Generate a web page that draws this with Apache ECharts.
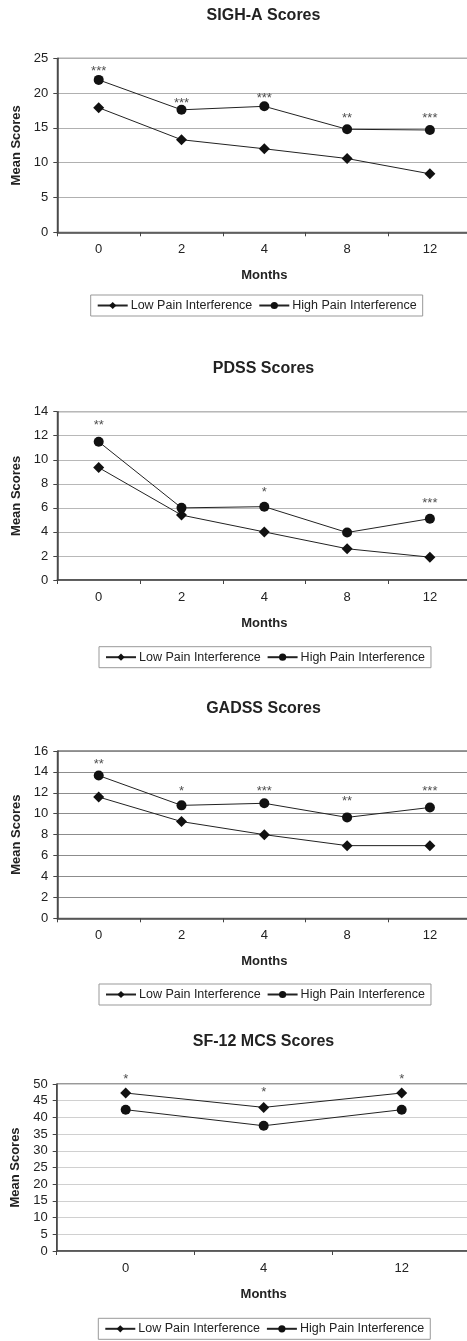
<!DOCTYPE html>
<html>
<head>
<meta charset="utf-8">
<script src="https://cdn.jsdelivr.net/npm/echarts@6/dist/echarts.min.js"></script>
<style>
html,body{margin:0;padding:0;background:#fff;}
#c{width:467px;height:1341px;}
</style>
</head>
<body>
<div id="c"></div>
<script>
// ---- data ----
const months5 = ['0', '2', '4', '8', '12'];
const months3 = ['0', '4', '12'];
const seriesNames = ['Low Pain Interference', 'High Pain Interference'];

const sighTitle = 'SIGH-A Scores';
const sighLow = [17.9, 13.3, 12.0, 10.6, 8.4];
const sighHigh = [21.9, 17.6, 18.1, 14.8, 14.7];
const sighSig = ['***', '***', '***', '**', '***'];
const sighSigY = [23.6, 19.0, 19.6, 16.8, 16.8];
const sighAxis = [0, 25, 5];

const pdssTitle = 'PDSS Scores';
const pdssLow = [9.35, 5.4, 4.0, 2.6, 1.9];
const pdssHigh = [11.5, 6.0, 6.1, 3.95, 5.1];
const pdssSig = ['**', '', '*', '', '***'];
const pdssSigY = [13.1, null, 7.5, null, 6.6];
const pdssAxis = [0, 14, 2];

const gadssTitle = 'GADSS Scores';
const gadssLow = [11.6, 9.25, 8.0, 6.95, 6.95];
const gadssHigh = [13.65, 10.8, 11.0, 9.65, 10.6];
const gadssSig = ['**', '*', '***', '**', '***'];
const gadssSigY = [15.0, 12.4, 12.4, 11.5, 12.4];
const gadssAxis = [0, 16, 2];

const mcsTitle = 'SF-12 MCS Scores';
const mcsLow = [47.3, 43.0, 47.3];
const mcsHigh = [42.3, 37.5, 42.3];
const mcsSig = ['*', '*', '*'];
const mcsSigY = [52.2, 48.5, 52.2];
const mcsAxis = [0, 50, 5];

// ---- layout ----
const FONT = '"Liberation Sans", Arial, sans-serif';
const TXT = '#222';
const panels = [
  {title: sighTitle, cats: months5, low: sighLow, high: sighHigh, sig: sighSig, sigY: sighSigY, axis: sighAxis,
   titleTop: 8, gridTop: 58.3, gridH: 174, left: 57.3, width: 414, legendLeft: 90.7, legendTop: 295, grid: '#b0b0b0'},
  {title: pdssTitle, cats: months5, low: pdssLow, high: pdssHigh, sig: pdssSig, sigY: pdssSigY, axis: pdssAxis,
   titleTop: 361, gridTop: 411.7, gridH: 168.3, left: 57.3, width: 414, legendLeft: 99, legendTop: 646.7, grid: '#b8b8b8'},
  {title: gadssTitle, cats: months5, low: gadssLow, high: gadssHigh, sig: gadssSig, sigY: gadssSigY, axis: gadssAxis,
   titleTop: 701, gridTop: 751, gridH: 167.3, left: 57.3, width: 414, legendLeft: 99, legendTop: 984, grid: '#8c8c8c'},
  {title: mcsTitle, cats: months3, low: mcsLow, high: mcsHigh, sig: mcsSig, sigY: mcsSigY, axis: mcsAxis,
   titleTop: 1034, gridTop: 1084, gridH: 167, left: 56.7, width: 414, legendLeft: 98.3, legendTop: 1318.3, grid: '#d0d0d0'}
];

const option = {
  backgroundColor: '#fff',
  animation: false,
  textStyle: {fontFamily: FONT, color: TXT},
  title: [], legend: [], grid: [], xAxis: [], yAxis: [], series: []
};

panels.forEach((p, i) => {
  const center = 263.5;
  option.title.push({
    text: p.title, left: center, top: p.titleTop, textAlign: 'center', padding: 0,
    textStyle: {fontFamily: FONT, fontSize: 16, fontWeight: 'bold', color: TXT}
  });
  option.grid.push({
    left: p.left, top: p.gridTop, width: p.width, height: p.gridH,
    containLabel: false, outerBoundsMode: 'none',
    show: true, borderColor: '#333', borderWidth: 1, backgroundColor: 'transparent'
  });
  option.legend.push({
    data: seriesNames, left: p.legendLeft, top: p.legendTop, orient: 'horizontal',
    padding: [4, 6], itemGap: 6, itemWidth: 30, itemHeight: 9,
    borderColor: '#999', borderWidth: 1, selectedMode: false,
    textStyle: {fontFamily: FONT, fontSize: 12.5, color: TXT, padding: [0, 0, 0, -2]}
  });
  option.xAxis.push({
    type: 'category', gridIndex: i, data: p.cats, boundaryGap: true,
    name: 'Months', nameLocation: 'middle', nameGap: 37,
    nameTextStyle: {fontFamily: FONT, fontSize: 13, fontWeight: 'bold', color: TXT},
    axisLine: {show: true, lineStyle: {color: '#444', width: 1.5}},
    axisTick: {show: true, length: 4, lineStyle: {color: '#444'}},
    axisLabel: {margin: 11, fontFamily: FONT, fontSize: 13, color: TXT},
    splitLine: {show: false}
  });
  option.yAxis.push({
    type: 'value', gridIndex: i, min: p.axis[0], max: p.axis[1], interval: p.axis[2],
    name: 'Mean Scores', nameLocation: 'middle', nameGap: 27, nameRotate: 90,
    nameTextStyle: {fontFamily: FONT, fontSize: 13, fontWeight: 'bold', color: TXT},
    axisLine: {show: true, lineStyle: {color: '#444', width: 1.5}},
    axisTick: {show: true, length: 4, lineStyle: {color: '#444'}},
    axisLabel: {margin: 9, fontFamily: FONT, fontSize: 13, color: TXT},
    splitLine: {show: true, lineStyle: {color: p.grid, width: 1}}
  });
  option.series.push({
    name: seriesNames[0], type: 'line', xAxisIndex: i, yAxisIndex: i, data: p.low,
    symbol: 'diamond', symbolSize: [11, 11],
    lineStyle: {color: '#222', width: 1}, itemStyle: {color: '#111'}, z: 3
  });
  option.series.push({
    name: seriesNames[1], type: 'line', xAxisIndex: i, yAxisIndex: i, data: p.high,
    symbol: 'circle', symbolSize: 10,
    lineStyle: {color: '#222', width: 1}, itemStyle: {color: '#111'}, z: 3
  });
  const sigData = [];
  p.sig.forEach((s, k) => { if (s && p.sigY[k] != null) sigData.push({value: [k, p.sigY[k]], name: s}); });
  option.series.push({
    type: 'scatter', xAxisIndex: i, yAxisIndex: i, data: sigData, clip: false,
    symbolSize: 1, itemStyle: {color: 'rgba(0,0,0,0)'}, silent: true,
    label: {show: true, position: 'inside', offset: [0, 3], formatter: d => d.name,
            fontFamily: FONT, fontSize: 13, color: TXT}
  });
});

const chart = echarts.init(document.getElementById('c'), null, {renderer: 'canvas'});
chart.setOption(option);
</script>
</body>
</html>
